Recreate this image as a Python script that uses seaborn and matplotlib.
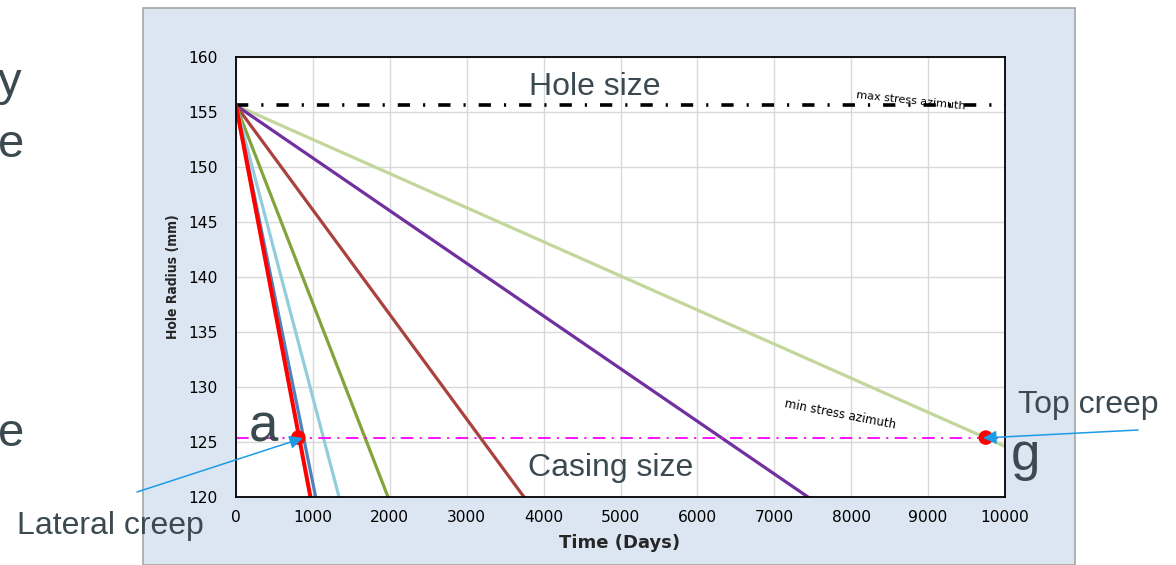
import matplotlib.pyplot as plt
import matplotlib.patches as mpatches
import pandas as pd
import seaborn as sns

# hole closure curves: every curve starts at the hole radius and runs straight down
start_radius = 155.6
series_names = ['Lateral', 'Case 2', 'Case 3', 'Case 4', 'Case 5', 'Case 6', 'Top']
end_days = [968, 1036, 1340, 1977, 3745, 7438, 10000]
end_radius = [120, 120, 120, 120, 120, 120, 124.6]
series_colors = ['#ff0000', '#4f81bd', '#92cddc', '#82a43c', '#a9423f', '#7030a0', '#c3d69b']

hole_size = 155.6
casing_size = 125.4
creep_days = [810, 9750]

x_ticks = list(range(0, 10001, 1000))
y_ticks = list(range(120, 161, 5))

W, H = 1176, 565


def fx(px):
    return px / W


def fy(py):
    return 1 - py / H


rows = []
for name, d, r in zip(series_names, end_days, end_radius):
    rows.append({'series': name, 'day': 0, 'radius': start_radius})
    rows.append({'series': name, 'day': d, 'radius': r})
df = pd.DataFrame(rows)

sns.set_style('whitegrid')
plt.rcParams['font.family'] = ['DejaVu Sans']

fig = plt.figure(figsize=(W / 100, H / 100), dpi=100)
fig.patch.set_facecolor('white')
panel = mpatches.Rectangle((fx(143), 0), fx(1075) - fx(143), fy(8), transform=fig.transFigure,
                           facecolor='#dce6f2', edgecolor='#a6a6a6', lw=1.2, zorder=-5)
fig.patches.append(panel)

ax = fig.add_axes([fx(236), fy(497), fx(1005) - fx(236), fy(57) - fy(497)])
ax.set_facecolor('white')

sns.lineplot(data=df, x='day', y='radius', hue='series', hue_order=series_names[::-1],
             palette=dict(zip(series_names, series_colors)), ax=ax, legend=False,
             linewidth=2.3, sort=False)
for ln in ax.lines:
    if ln.get_color() in ('#ff0000', (1.0, 0.0, 0.0)):
        ln.set_linewidth(2.9)
        ln.set_zorder(4)

ax.axhline(hole_size, color='black', lw=2.6, dashes=(3.4, 3.6, 0.6, 3.6), zorder=3)
ax.axhline(casing_size, color='#ff00ff', lw=1.3, dashes=(7, 3.5, 1.2, 3.5), zorder=3)

sns.scatterplot(x=creep_days, y=[casing_size] * len(creep_days), ax=ax, color='#ff0000',
                s=110, edgecolor='none', zorder=5)

ax.set_xlim(0, 10000)
ax.set_ylim(120, 160)
ax.set_xticks(x_ticks)
ax.set_yticks(y_ticks)
ax.grid(True, color='#d9d9d9', lw=1)
ax.tick_params(axis='both', length=0, labelsize=11.2, colors='black')
ax.tick_params(axis='y', pad=13)
ax.tick_params(axis='x', pad=9)
for s in ax.spines.values():
    s.set_color('black')
    s.set_linewidth(1.3)
    s.set_zorder(6)

ax.set_xlabel('Time (Days)', fontsize=13, fontweight='bold')
ax.xaxis.set_label_coords(0.499, -0.083)
ax.set_ylabel('Hole Radius (mm)', fontsize=10, fontweight='bold', fontstretch='condensed')
ax.yaxis.set_label_coords(-0.073, 0.5)

# chart annotations
big = dict(family=['Liberation Sans', 'DejaVu Sans'], color='#3b4a50')
fig.text(fx(595), fy(95), 'Hole size', fontsize=23, ha='center', va='baseline', **big)
fig.text(fx(611), fy(476), 'Casing size', fontsize=23, ha='center', va='baseline', **big)
fig.text(fx(263), fy(441), 'a', fontsize=38, ha='center', va='baseline', **big)
fig.text(fx(1025), fy(470), 'g', fontsize=38, ha='center', va='baseline', **big)
fig.text(fx(1088), fy(413), 'Top creep', fontsize=23, ha='center', va='baseline', **big)
fig.text(fx(110), fy(534), 'Lateral creep', fontsize=23, ha='center', va='baseline', **big)

# slide text cut off on the left
fig.text(fx(22), fy(95), 'y', fontsize=34, ha='right', va='baseline', **big)
fig.text(fx(24), fy(157), 'e', fontsize=34, ha='right', va='baseline', **big)
fig.text(fx(24), fy(446), 'e', fontsize=34, ha='right', va='baseline', **big)

fig.text(fx(911), fy(101), 'max stress azimuth', fontsize=8, rotation=-6,
         ha='center', va='center', color='black')
fig.text(fx(840), fy(414), 'min stress azimuth', fontsize=8.5, rotation=-11,
         ha='center', va='center', color='black')

arrow_kw = dict(arrowstyle='-|>', color='#1a9be6', lw=1.1, mutation_scale=20, shrinkA=0, shrinkB=0)
ax.annotate('', xy=(fx(303), fy(438)), xycoords='figure fraction',
            xytext=(fx(137), fy(492)), textcoords='figure fraction', arrowprops=arrow_kw,
            annotation_clip=False, zorder=7)
ax.annotate('', xy=(fx(983), fy(438)), xycoords='figure fraction',
            xytext=(fx(1138), fy(430)), textcoords='figure fraction', arrowprops=arrow_kw,
            annotation_clip=False, zorder=7)

fig.savefig('out.png', dpi=100)
